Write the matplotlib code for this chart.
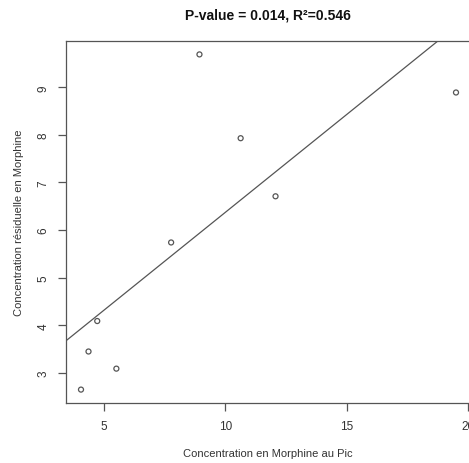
import numpy as np
import matplotlib
matplotlib.use("Agg")
import matplotlib.pyplot as plt

# Data
x_pic = [4.04, 4.35, 4.71, 5.50, 7.76, 8.93, 10.63, 12.07, 19.52]
y_res = [2.65, 3.45, 4.09, 3.09, 5.74, 9.69, 7.93, 6.71, 8.89]
x_ticks = [5, 10, 15, 20]
y_ticks = [3, 4, 5, 6, 7, 8, 9]
title = "P-value = 0.014, R\u00b2=0.546"
xlabel = "Concentration en Morphine au Pic"
ylabel = "Concentration r\u00e9siduelle en Morphine"

plt.rcParams['font.family'] = ['Liberation Sans', 'DejaVu Sans']

W, H = 469, 464
fig = plt.figure(figsize=(W / 100, H / 100), dpi=100)
left, right, top, bottom = 66, 471, 42, 404
ax = fig.add_axes([left / W, 1 - bottom / H, (right - left) / W, (bottom - top) / H])

line_col = '#555555'
text_col = '#333333'

ax.scatter(x_pic, y_res, s=13, facecolors='none', edgecolors=line_col, linewidths=0.9, zorder=3)

slope, intercept = np.polyfit(x_pic, y_res, 1)
xmin, xmax = min(x_pic), max(x_pic)
ymin, ymax = min(y_res), max(y_res)
xr, yr = xmax - xmin, ymax - ymin
xl = (xmin - 0.04 * xr, xmax + 0.04 * xr)
yl = (ymin - 0.04 * yr, ymax + 0.04 * yr)
ax.set_xlim(*xl)
ax.set_ylim(*yl)
ax.axline((0, intercept), slope=slope, color=line_col, linewidth=0.9)

ax.set_xticks(x_ticks)
ax.set_yticks(y_ticks)
ax.set_xticklabels([str(t) for t in x_ticks], fontsize=8.5, color=text_col)
ax.set_yticklabels([str(t) for t in y_ticks], fontsize=8.5, color=text_col,
                   rotation=90, va='center')
ax.tick_params(axis='both', direction='out', length=6, width=0.9, color=line_col)
ax.tick_params(axis='x', pad=6)
ax.tick_params(axis='y', pad=6)
for sp in ax.spines.values():
    sp.set_color(line_col)
    sp.set_linewidth(0.9)

fig.text(0.5 * (185 + 351) / W, 1 - 15 / H, title, ha='center', va='center',
         fontsize=10, fontweight='bold', color='#111111')
fig.text((183 + 353) / 2 / W, 1 - 454 / H, xlabel, ha='center', va='center',
         fontsize=8, color=text_col)
fig.text(19 / W, 1 - 223 / H, ylabel, ha='center', va='center', rotation=90,
         fontsize=8, color=text_col)

fig.savefig('out.png', dpi=100)
